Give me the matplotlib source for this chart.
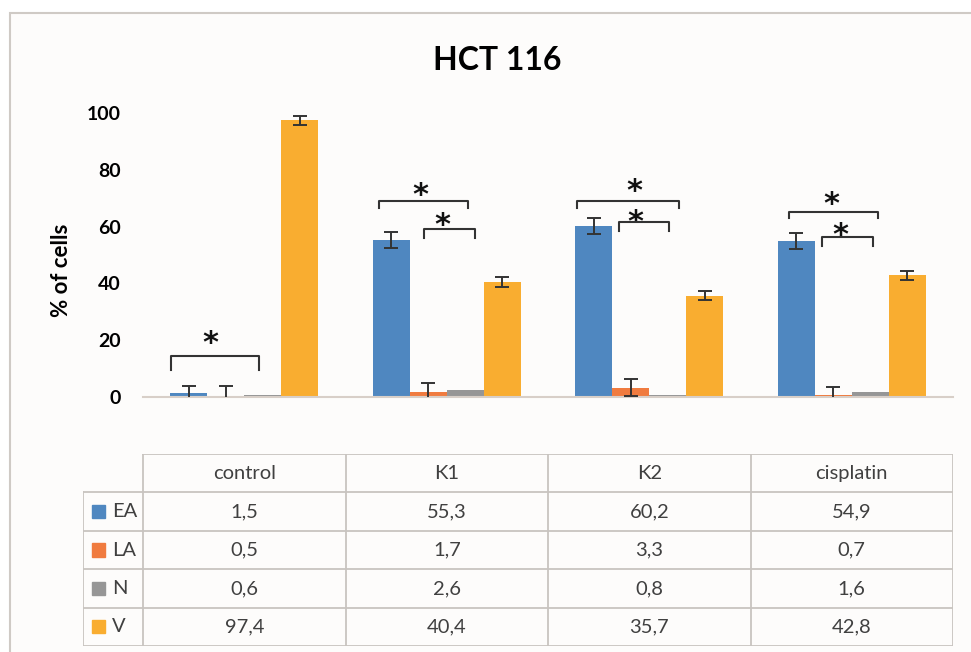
import matplotlib
matplotlib.use("Agg")
import matplotlib.pyplot as plt
from matplotlib.patches import Rectangle
import numpy as np

plt.rcParams['font.family'] = ['Lato', 'DejaVu Sans']

categories = ['control', 'K1', 'K2', 'cisplatin']
series = ['EA', 'LA', 'N', 'V']
ea = [1.5, 55.3, 60.2, 54.9]
la = [0.5, 1.7, 3.3, 0.7]
n = [0.6, 2.6, 0.8, 1.6]
v = [97.4, 40.4, 35.7, 42.8]
ea_err = [2.4, 2.9, 2.7, 2.7]
la_err = [3.2, 3.1, 2.9, 2.8]
v_err = [1.5, 1.7, 1.5, 1.5]
labels_ea = ['1,5', '55,3', '60,2', '54,9']
labels_la = ['0,5', '1,7', '3,3', '0,7']
labels_n = ['0,6', '2,6', '0,8', '1,6']
labels_v = ['97,4', '40,4', '35,7', '42,8']
# significance brackets: (left x, right x, height, drop, star x, star height)
brackets = [(-0.362, 0.074, 14.6, 5.0, -0.168, 21.8),
            (0.663, 1.104, 69.1, 2.5, 0.871, 74.0),
            (0.886, 1.139, 59.1, 3.2, 0.980, 63.5),
            (1.644, 2.149, 69.1, 2.7, 1.925, 75.4),
            (1.851, 2.099, 61.6, 3.2, 1.930, 64.6),
            (2.688, 3.129, 65.2, 2.3, 2.901, 70.9),
            (2.851, 3.104, 56.3, 3.2, 2.946, 59.9)]

colors = ['#4f87c0', '#f07b3f', '#969696', '#f9ad30']
values = [ea, la, n, v]
errors = [ea_err, la_err, None, v_err]
cell_text = [labels_ea, labels_la, labels_n, labels_v]

W, H = 971, 652
fig = plt.figure(figsize=(W / 100, H / 100), dpi=100)
fig.patch.set_facecolor('white')

# outer frame
frame = Rectangle((10 / W, -0.05), 1.1, 1 - 13 / H + 0.05,
                  transform=fig.transFigure, facecolor='#fdfcfb',
                  edgecolor='#cfcac5', lw=1.5, zorder=-10)
fig.patches.append(frame)

ax = fig.add_axes([143 / W, 1 - 397 / H, 810 / W, 284 / H])
ax.set_facecolor('none')
x = np.arange(len(categories))
w = 0.183
for i in range(4):
    pos = x + (i - 1.5) * w
    ax.bar(pos, values[i], w, color=colors[i], zorder=2)
    if errors[i] is not None:
        ax.errorbar(pos, values[i], yerr=errors[i], fmt='none', ecolor='#333333',
                    elinewidth=1.4, capsize=5, capthick=1.4, zorder=3)

ax.set_xlim(-0.5, 3.5)
ax.set_ylim(0, 100)
ax.set_yticks([0, 20, 40, 60, 80, 100])
ax.set_xticks([])
ax.tick_params(axis='y', length=0, pad=16, labelsize=14)
for t in ax.get_yticklabels():
    t.set_fontweight('bold')
for s in ['top', 'right', 'left']:
    ax.spines[s].set_visible(False)
ax.spines['bottom'].set_color('#d8cfc8')
ax.spines['bottom'].set_linewidth(1.5)

for x0, x1, h, drop, sx, sy in brackets:
    ax.plot([x0, x0, x1, x1], [h - drop, h, h, h - drop], color='#333333',
            lw=1.5, clip_on=False, zorder=4)
    ax.annotate('*', (sx, sy), xytext=(0, -12.5), textcoords='offset points',
                ha='center', va='baseline', fontsize=22, fontweight='bold',
                family='DejaVu Sans', color='#111111', annotation_clip=False)

fig.text(497 / W, 1 - 60 / H, 'HCT 116', ha='center', va='center',
         fontsize=23, fontweight='bold')
fig.text(62 / W, 1 - 270 / H, '% of cells', ha='center', va='center',
         rotation=90, fontsize=16, fontweight='bold')

# data table
tx0 = -0.5 - 60 / 202
tab = fig.add_axes([83 / W, 1 - 646 / H, 870 / W, 192 / H])
tab.set_xlim(tx0, 3.5)
tab.set_ylim(5, 0)
tab.axis('off')
gc = '#c8c4c0'
tab.plot([-0.5, 3.5], [0, 0], color=gc, lw=1.3)
for r in range(1, 6):
    tab.plot([tx0, 3.5], [r, r], color=gc, lw=1.3)
tab.plot([tx0, tx0], [1, 5], color=gc, lw=1.3)
for c in range(5):
    tab.plot([c - 0.5, c - 0.5], [0, 5], color=gc, lw=1.3)
tc = '#404040'
for c, name in enumerate(categories):
    tab.text(c, 0.5, name, ha='center', va='center', fontsize=14.5, color=tc)
for r in range(4):
    tab.add_patch(Rectangle((tx0 + 0.045, r + 1.33), 0.065, 0.34,
                            color=colors[r]))
    tab.text(tx0 + 0.145, r + 1.5, series[r], ha='left', va='center',
             fontsize=14.5, color=tc)
    for c in range(4):
        tab.text(c, r + 1.5, cell_text[r][c], ha='center', va='center',
                 fontsize=14.5, color=tc)

fig.savefig('out.png', dpi=100)
